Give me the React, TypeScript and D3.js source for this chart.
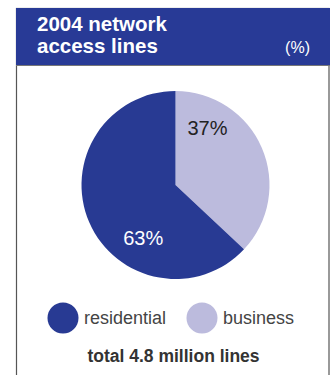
import React from "react";
import * as d3 from "d3";

const categories = ["business", "residential"];
const values = [37, 63];
const colors = ["#BCBBDD", "#283A93"];
const labelColors = ["#222222", "#ffffff"];
const labelFraction = [0.225, 0.34];
const titleLines = ["2004 network", "access lines"];
const unitLabel = "(%)";
const legendItems = ["residential", "business"];
const totalLabel = "total 4.8 million lines";

export default function App() {
  const W = 332, H = 375;
  const cx = 175.5, cy = 185, r = 94;
  const pie = d3.pie<number>().sort(null).value((d) => d)(values);
  const arc = d3.arc<d3.PieArcDatum<number>>().innerRadius(0).outerRadius(r);
  const font = "'Liberation Sans', Arial, Helvetica, sans-serif";
  const legendColor = (name: string) => colors[categories.indexOf(name)];
  const legendPos = [{ cx: 63, tx: 84 }, { cx: 202, tx: 223 }];
  return (
    <svg width={W} height={H} style={{ position: "absolute", left: 0, top: 0 }} fontFamily={font}>
      <rect x={0} y={0} width={W} height={H} fill="#ffffff" />
      <rect x={16.5} y={8.5} width={312.5} height={380} fill="#ffffff" stroke="#555" strokeWidth={1.2} />
      <rect x={16} y={8} width={314} height={57} fill="#283A96" />
      <line x1={16} x2={330} y1={65.5} y2={65.5} stroke="#777" strokeWidth={1} />
      {titleLines.map((t, i) => (
        <text key={t} x={37} y={31 + i * 22} fill="#fff" fontSize={20.5} fontWeight="bold">{t}</text>
      ))}
      <text x={310} y={53} fill="#fff" fontSize={16} textAnchor="end">{unitLabel}</text>
      <g transform={`translate(${cx},${cy})`}>
        {pie.map((p, i) => (
          <path key={categories[i]} d={arc(p) || ""} fill={colors[i]} />
        ))}
        {pie.map((p, i) => {
          const a = p.startAngle + (p.endAngle - p.startAngle) * labelFraction[i];
          const [lx, ly] = d3.pointRadial(a, r * 0.68);
          return (
            <text key={"l" + i} x={lx} y={ly} fill={labelColors[i]} fontSize={20} textAnchor="middle" dominantBaseline="middle">
              {values[i]}%
            </text>
          );
        })}
      </g>
      {legendItems.map((name, i) => (
        <g key={name}>
          <circle cx={legendPos[i].cx} cy={318} r={15.5} fill={legendColor(name)} />
          <text x={legendPos[i].tx} y={324} fontSize={18} fill="#444">{name}</text>
        </g>
      ))}
      <text x={173.5} y={362} fontSize={17.5} fontWeight="bold" fill="#333" textAnchor="middle">{totalLabel}</text>
    </svg>
  );
}
